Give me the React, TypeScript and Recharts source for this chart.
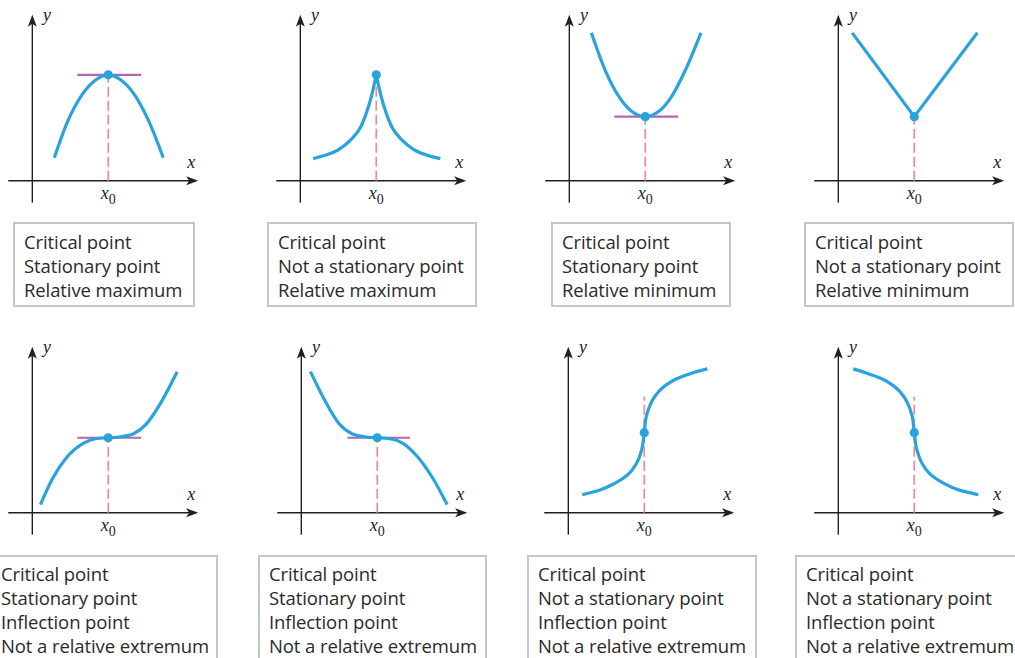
import { LineChart, Line, XAxis, YAxis, ReferenceLine, ReferenceDot } from 'recharts'

// colours
const CURVE = '#29a3dd'
const TANGENT = '#b266b0'
const DASH = '#ef8b91'
const AXIS = '#231f20'
const TEXT = '#2a2a2a'

// every panel shares one coordinate frame, x0 sits at 3
const X0 = 3
const DOMAIN: [number, number] = [-1, 6.9]
const SIZE = 200
const UNIT = SIZE / (DOMAIN[1] - DOMAIN[0])

// --- curve readings (x, y) ---
const maxX = [0.87, 1.4, 2.0, 2.5, 3.0, 3.5, 4.0, 4.6, 5.17]
const maxY = [0.91, 2.35, 3.45, 3.98, 4.18, 3.98, 3.45, 2.35, 0.91]

const cuspLeftX = [0.51, 1.0, 1.5, 2.0, 2.4, 2.7, 2.85, 3.0]
const cuspLeftY = [0.87, 1.01, 1.22, 1.62, 2.15, 2.95, 3.5, 4.18]
const cuspRightX = [3.0, 3.15, 3.3, 3.6, 4.0, 4.5, 5.0, 5.53]
const cuspRightY = [4.18, 3.5, 2.95, 2.15, 1.62, 1.22, 1.01, 0.87]

const minX = [0.87, 1.4, 2.0, 2.5, 3.0, 3.5, 4.0, 4.6, 5.2]
const minY = [5.84, 4.4, 3.26, 2.71, 2.53, 2.71, 3.26, 4.4, 5.84]

const vX = [0.55, 3.0, 5.49]
const vY = [5.84, 2.53, 5.84]

const riseX = [0.32, 0.8, 1.37, 2.03, 2.5, 3.0, 3.5, 4.0, 4.5, 5.05, 5.72]
const riseY = [0.32, 1.35, 2.2, 2.75, 2.92, 2.96, 3.0, 3.12, 3.5, 4.3, 5.57]

const fallX = [0.36, 1.0, 1.5, 2.0, 2.5, 3.0, 3.5, 4.0, 4.6, 5.2, 5.76]
const fallY = [5.57, 4.3, 3.5, 3.12, 3.0, 2.96, 2.92, 2.75, 2.2, 1.35, 0.32]

// vertical-tangent curves, listed by rising y
const vertY = [0.71, 0.9, 1.17, 1.5, 1.96, 2.5, 3.16, 3.8, 4.3, 4.6, 5.0, 5.3, 5.52, 5.68]
const vertUpX = [0.55, 1.25, 1.85, 2.35, 2.7, 2.9, 3.0, 3.08, 3.25, 3.42, 3.8, 4.3, 4.9, 5.49]
const vertDownX = [5.53, 4.75, 4.15, 3.65, 3.3, 3.1, 3.0, 2.92, 2.75, 2.58, 2.2, 1.7, 1.1, 0.59]

// point on the curve at x0, tangent extent, top of the dashed guide
const pointY = [4.18, 4.18, 2.53, 2.53, 2.96, 2.96, 3.16, 3.16]
const tangentFrom = [1.78, null, 1.78, null, 1.78, 1.82, null, null]
const tangentTo = [4.3, null, 4.3, null, 4.3, 4.3, null, null]
const dashTop = [4.18, 4.18, 2.53, 2.53, 2.96, 2.96, 4.58, 4.58]

const boxTexts = [
  ['Critical point', 'Stationary point', 'Relative maximum'],
  ['Critical point', 'Not a stationary point', 'Relative maximum'],
  ['Critical point', 'Stationary point', 'Relative minimum'],
  ['Critical point', 'Not a stationary point', 'Relative minimum'],
  ['Critical point', 'Stationary point', 'Inflection point', 'Not a relative extremum'],
  ['Critical point', 'Stationary point', 'Inflection point', 'Not a relative extremum'],
  ['Critical point', 'Not a stationary point', 'Inflection point', 'Not a relative extremum'],
  ['Critical point', 'Not a stationary point', 'Inflection point', 'Not a relative extremum'],
]

const zip = (xs: number[], ys: number[]) => xs.map((x, i) => ({ x, y: ys[i] }))

const curves = [
  [zip(maxX, maxY)],
  [zip(cuspLeftX, cuspLeftY), zip(cuspRightX, cuspRightY)],
  [zip(minX, minY)],
  [zip(vX, vY)],
  [zip(riseX, riseY)],
  [zip(fallX, fallY)],
  [zip(vertUpX, vertY)],
  [zip(vertDownX, vertY)],
]
const curveTypes = ['monotone', 'monotone', 'monotone', 'linear', 'monotone', 'monotone', 'monotoneY', 'monotoneY'] as const

// layout: pixel position of each panel's origin, and its text box
const origins = [
  [32, 181], [300, 181], [569, 181], [838, 181],
  [32, 513], [301, 513], [568, 513], [838, 513],
]
const boxes = [
  { left: 13, top: 222, width: 182, height: 85 },
  { left: 267, top: 222, width: 210, height: 85 },
  { left: 551, top: 222, width: 180, height: 85 },
  { left: 804, top: 222, width: 210, height: 85 },
  { left: -10, top: 555, width: 228, height: 120 },
  { left: 258, top: 555, width: 229, height: 120 },
  { left: 527, top: 555, width: 230, height: 120 },
  { left: 795, top: 555, width: 240, height: 120 },
]

const serif = '"Liberation Serif", "DejaVu Serif", serif'
const sans = '"Open Sans", "Noto Sans", sans-serif'

const arrowRight = (p: any) => (
  <path d={`M${p.cx},${p.cy} L${p.cx - 12},${p.cy - 4.5} L${p.cx - 9},${p.cy} L${p.cx - 12},${p.cy + 4.5} Z`} fill={AXIS} />
)
const arrowUp = (p: any) => (
  <path d={`M${p.cx},${p.cy} L${p.cx - 4.5},${p.cy + 12} L${p.cx},${p.cy + 9} L${p.cx + 4.5},${p.cy + 12} Z`} fill={AXIS} />
)
const italicLabel = (t: string, anchor: 'start' | 'middle') => (p: any) => (
  <text x={p.cx} y={p.cy} fontFamily={serif} fontStyle="italic" fontSize={18} fill={AXIS} textAnchor={anchor}>
    {t}
  </text>
)
const x0Label = (p: any) => (
  <text x={p.cx} y={p.cy} fontFamily={serif} fontSize={18} fill={AXIS} textAnchor="middle">
    <tspan fontStyle="italic">x</tspan>
    <tspan fontSize={14} dy={5}>0</tspan>
  </text>
)

function Panel({ i }: { i: number }) {
  const [ox, oy] = origins[i]
  const py = pointY[i]
  const t0 = tangentFrom[i]
  const t1 = tangentTo[i]
  return (
    <div style={{ position: 'absolute', left: ox - UNIT, top: oy - DOMAIN[1] * UNIT }}>
      <LineChart width={SIZE} height={SIZE} margin={{ top: 0, right: 0, bottom: 0, left: 0 }}>
        <XAxis type="number" dataKey="x" domain={DOMAIN} hide allowDataOverflow />
        <YAxis type="number" dataKey="y" domain={DOMAIN} hide allowDataOverflow />
        <ReferenceLine segment={[{ x: -0.95, y: 0 }, { x: 6.45, y: 0 }]} stroke={AXIS} strokeWidth={1.4} ifOverflow="visible" />
        <ReferenceLine segment={[{ x: 0, y: -0.87 }, { x: 0, y: 6.45 }]} stroke={AXIS} strokeWidth={1.4} ifOverflow="visible" />
        <ReferenceDot x={6.55} y={0} shape={arrowRight} ifOverflow="visible" />
        <ReferenceDot x={0} y={6.55} shape={arrowUp} ifOverflow="visible" />
        <ReferenceDot x={0.42} y={6.32} shape={italicLabel('y', 'start')} ifOverflow="visible" />
        <ReferenceDot x={6.28} y={0.51} shape={italicLabel('x', 'middle')} ifOverflow="visible" />
        <ReferenceDot x={X0} y={-0.72} shape={x0Label} ifOverflow="visible" />
        <ReferenceLine segment={[{ x: X0, y: 0 }, { x: X0, y: dashTop[i] }]} stroke={DASH} strokeWidth={1.7} strokeDasharray="10 4" />
        {t0 != null && t1 != null && (
          <ReferenceLine segment={[{ x: t0, y: py }, { x: t1, y: py }]} stroke={TANGENT} strokeWidth={2.2} />
        )}
        {curves[i].map((seg, k) => (
          <Line
            key={k}
            data={seg}
            dataKey="y"
            type={curveTypes[i]}
            stroke={CURVE}
            strokeWidth={3.2}
            dot={false}
            activeDot={false}
            isAnimationActive={false}
          />
        ))}
        <ReferenceDot x={X0} y={py} r={4.6} fill={CURVE} stroke="none" />
      </LineChart>
    </div>
  )
}

export default function App() {
  return (
    <div style={{ position: 'absolute', left: 0, top: 0, width: 1015, height: 658, overflow: 'hidden', background: '#fff' }}>
      {origins.map((_, i) => (
        <Panel key={i} i={i} />
      ))}
      {boxes.map((b, i) => (
        <div
          key={i}
          style={{
            position: 'absolute',
            left: b.left,
            top: b.top,
            width: b.width,
            height: b.height,
            boxSizing: 'border-box',
            border: '2px solid #c6c6c6',
            padding: i < 4 ? '6px 0 0 9px' : '5px 0 0 9px',
            fontFamily: sans,
            fontSize: 18.5,
            letterSpacing: -0.1,
            lineHeight: '24px',
            color: TEXT,
            whiteSpace: 'nowrap',
          }}
        >
          {boxTexts[i].map((t) => (
            <div key={t}>{t}</div>
          ))}
        </div>
      ))}
    </div>
  )
}
